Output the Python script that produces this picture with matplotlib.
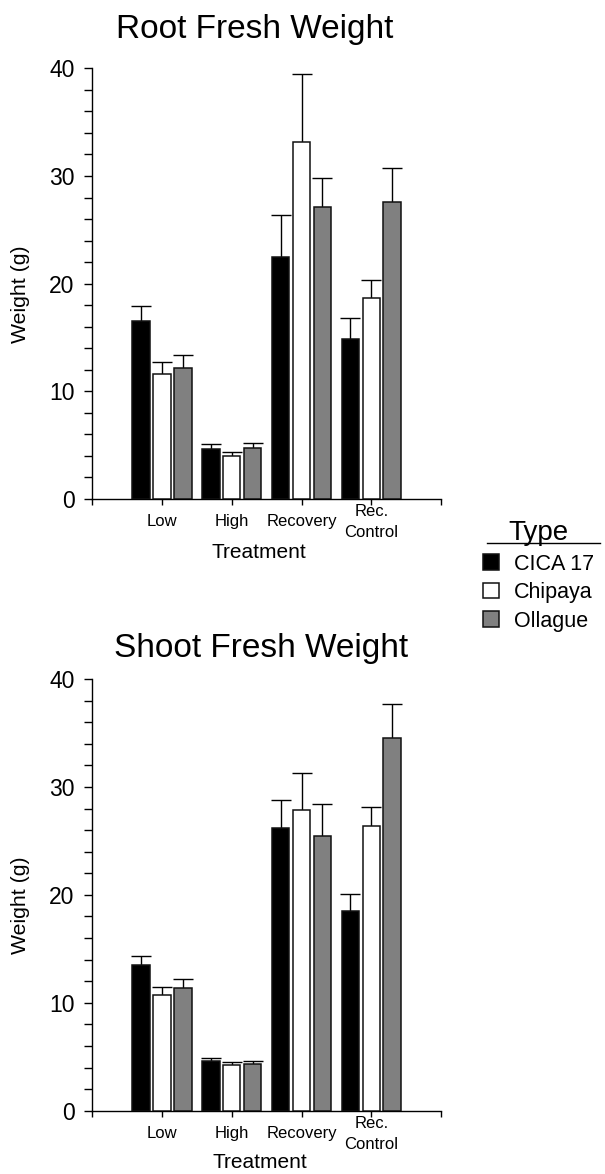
import numpy as np
import matplotlib
matplotlib.use("Agg")
import matplotlib.pyplot as plt
from matplotlib.lines import Line2D
from matplotlib.ticker import MultipleLocator, FixedLocator

plt.rcParams['font.family'] = ['Liberation Sans', 'DejaVu Sans']

# ---------------- data ----------------
treatments = ["Low", "High", "Recovery", "Rec.\nControl"]
types = ["CICA 17", "Chipaya", "Ollague"]
type_colors = ["#000000", "#ffffff", "#808080"]

root_cica = [16.5, 4.68, 22.5, 14.9]
root_cica_err = [1.4, 0.43, 3.85, 1.95]
root_chipaya = [11.57, 4.0, 33.2, 18.7]
root_chipaya_err = [1.16, 0.33, 6.3, 1.6]
root_ollague = [12.2, 4.78, 27.1, 27.6]
root_ollague_err = [1.16, 0.46, 2.75, 3.15]

shoot_cica = [13.5, 4.63, 26.2, 18.5]
shoot_cica_err = [0.8, 0.25, 2.6, 1.55]
shoot_chipaya = [10.7, 4.2, 27.9, 26.4]
shoot_chipaya_err = [0.73, 0.28, 3.4, 1.7]
shoot_ollague = [11.4, 4.35, 25.45, 34.5]
shoot_ollague_err = [0.84, 0.28, 2.95, 3.15]

W, H = 605, 1174
fig = plt.figure(figsize=(W / 100, H / 100), dpi=100)


def fx(px):
    return px / W


def fy(py):
    return 1 - py / H


def make_axes(top_px, bottom_px):
    return fig.add_axes([fx(92.3), fy(bottom_px), fx(441) - fx(92.3),
                         (bottom_px - top_px) / H])


def draw(ax, series, errs):
    x = np.arange(len(treatments))
    offsets = [-0.3, 0.0, 0.3]
    conts = []
    for vals, err, col, off, lab in zip(series, errs, type_colors, offsets, types):
        vals = np.asarray(vals, float)
        err = np.asarray(err, float)
        xs = x + off
        eb = ax.errorbar(xs, vals, yerr=[np.zeros_like(err), err], fmt='none',
                         ecolor='black', elinewidth=1.0, capsize=7.0,
                         capthick=1.0, zorder=2)
        for cl in eb[1]:
            if np.allclose(cl.get_ydata(), vals):
                cl.set_visible(False)
        c = ax.bar(xs, vals, width=0.25, color=col, edgecolor='#111111',
                   linewidth=1.1, zorder=3, label=lab)
        conts.append(c)
    ax.set_xlim(-1, 4)
    ax.set_ylim(0, 40)
    for s in ['top', 'right']:
        ax.spines[s].set_visible(False)
    for s in ['left', 'bottom']:
        ax.spines[s].set_linewidth(1.0)
    ax.yaxis.set_major_locator(MultipleLocator(10))
    ax.yaxis.set_minor_locator(MultipleLocator(2))
    ax.tick_params(axis='y', which='both', direction='out', length=5.8,
                   width=1.0, labelsize=16.5, pad=7)
    ax.xaxis.set_major_locator(FixedLocator([-1, 0, 1, 2, 3, 4]))
    ax.set_xticklabels([""] + treatments + [""])
    ax.tick_params(axis='x', which='both', direction='out', length=4,
                   width=1.0, labelsize=12, pad=12.5)
    for t in ax.get_xticklabels():
        t.set_verticalalignment('center')
        t.set_linespacing(1.5)
    return conts


ax1 = make_axes(68.3, 499)
conts = draw(ax1, [root_cica, root_chipaya, root_ollague],
             [root_cica_err, root_chipaya_err, root_ollague_err])
ax2 = make_axes(679, 1110.7)
draw(ax2, [shoot_cica, shoot_chipaya, shoot_ollague],
     [shoot_cica_err, shoot_chipaya_err, shoot_ollague_err])

# titles and axis labels
fig.text(fx(254.2), fy(38), "Root Fresh Weight", ha='center', va='baseline', fontsize=24)
fig.text(fx(260.8), fy(656.7), "Shoot Fresh Weight", ha='center', va='baseline', fontsize=24)
for yc in (294, 905):
    fig.text(fx(21), fy(yc), "Weight (g)", rotation=90, ha='center', va='center', fontsize=15.3)
fig.text(fx(259), fy(558.3), "Treatment", ha='center', va='baseline', fontsize=15)
fig.text(fx(260), fy(1168.3), "Treatment", ha='center', va='baseline', fontsize=15)

# legend
leg = fig.legend(handles=conts, labels=types, title="Type", loc='upper left',
                 bbox_to_anchor=(fx(483.3), fy(520)), frameon=False,
                 fontsize=15.5, title_fontsize=20, handlelength=0.72,
                 handleheight=0.72, handletextpad=0.7, labelspacing=0.35,
                 borderpad=0, borderaxespad=0)
fig.add_artist(Line2D([fx(486.7), fx(600)], [fy(543.3), fy(543.3)],
                      color='black', linewidth=1.0))

fig.savefig("out.png", dpi=100)
